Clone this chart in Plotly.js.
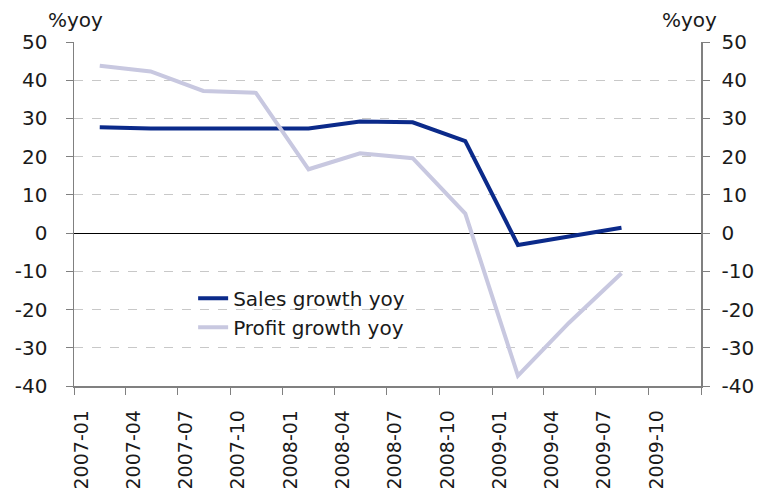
<!DOCTYPE html>
<html>
<head>
<meta charset="utf-8">
<script src="https://cdn.plot.ly/plotly-3.0.1.min.js"></script>
<style>
  body { margin: 0; background: #fff; }
  #plot { width: 766px; height: 490px; }
</style>
</head>
<body>
<div id="plot"></div>
<script>
// quarterly observations, plotted mid-quarter
var quarters = ["2007-02-15", "2007-05-15", "2007-08-15", "2007-11-15",
                "2008-02-15", "2008-05-15", "2008-08-15", "2008-11-15",
                "2009-02-15", "2009-05-15", "2009-08-15"];
var salesGrowth  = [27.7, 27.4, 27.4, 27.5, 27.4, 29.2, 29.0, 24.1, -3.1, -0.9, 1.4];
var profitGrowth = [43.8, 42.3, 37.2, 36.7, 16.7, 20.9, 19.6, 5.1, -37.3, -23.5, -10.5];

var tickDates = ["2007-01-01", "2007-04-01", "2007-07-01", "2007-10-01",
                 "2008-01-01", "2008-04-01", "2008-07-01", "2008-10-01",
                 "2009-01-01", "2009-04-01", "2009-07-01", "2009-10-01", "2010-01-01"];
var tickLabels = ["2007-01", "2007-04", "2007-07", "2007-10",
                  "2008-01", "2008-04", "2008-07", "2008-10",
                  "2009-01", "2009-04", "2009-07", "2009-10", ""];

var yTickVals = [-40, -30, -20, -10, 0, 10, 20, 30, 40, 50];
var yTickText = ["-40", "-30", "-20", "-10", "0", "10", "20", "30", "40", "50"];

var font = {family: "DejaVu Sans", size: 20, color: "#1a1a1a"};
var xFont = {family: "DejaVu Sans", size: 19, color: "#1a1a1a"};

var sales = {
  x: quarters,
  y: salesGrowth,
  name: "Sales growth yoy",
  type: "scatter",
  mode: "lines",
  line: {color: "#0b2a8a", width: 4}
};

var profit = {
  x: quarters,
  y: profitGrowth,
  name: "Profit growth yoy",
  type: "scatter",
  mode: "lines",
  line: {color: "#c8c8e0", width: 4}
};

// invisible copy so the right-hand axis is drawn
var rightAxis = {
  x: quarters,
  y: salesGrowth,
  yaxis: "y2",
  type: "scatter",
  mode: "lines",
  opacity: 0,
  showlegend: false,
  hoverinfo: "skip"
};

var yCommon = {
  range: [-40, 50],
  tickmode: "array",
  tickvals: yTickVals,
  ticktext: yTickText,
  ticks: "outside",
  ticklen: 7,
  tickcolor: "#808080",
  showline: true,
  linecolor: "#808080",
  linewidth: 1.5,
  tickfont: font,
  fixedrange: true
};

var layout = {
  width: 766,
  height: 490,
  margin: {l: 74, r: 65, t: 42, b: 104},
  paper_bgcolor: "#fff",
  plot_bgcolor: "#fff",
  font: font,
  showlegend: true,
  legend: {
    x: 0.19, y: 0.312, xanchor: "left", yanchor: "top",
    bgcolor: "rgba(0,0,0,0)",
    font: font,
    tracegroupgap: 0
  },
  xaxis: {
    type: "date",
    range: ["2007-01-01", "2010-01-01"],
    tickmode: "array",
    tickvals: tickDates,
    ticktext: tickLabels,
    tickangle: -90,
    ticks: "outside",
    ticklen: 7,
    tickcolor: "#808080",
    showline: true,
    linecolor: "#808080",
    linewidth: 1.5,
    showgrid: false,
    tickfont: xFont,
    ticklabelstandoff: 8,
    ticklabelshift: 8
  },
  yaxis: Object.assign({}, yCommon, {
    showgrid: true,
    gridcolor: "#c8c8c8",
    griddash: "dash",
    zeroline: true,
    zerolinecolor: "#000",
    zerolinewidth: 1,
    ticklabelstandoff: 14
  }),
  yaxis2: Object.assign({}, yCommon, {
    overlaying: "y",
    side: "right",
    showgrid: false,
    zeroline: false,
    ticklabelstandoff: 8
  }),
  shapes: [{
    type: "rect", xref: "paper", yref: "paper",
    x0: 0.086, x1: 0.611, y0: 0.142, y1: 0.294,
    fillcolor: "#fff", line: {width: 0}, layer: "between"
  }],
  annotations: [
    {text: "%yoy", xref: "paper", yref: "paper", x: 0.049, y: 1.064,
     xanchor: "right", yanchor: "middle", showarrow: false, font: font},
    {text: "%yoy", xref: "paper", yref: "paper", x: 0.981, y: 1.064,
     xanchor: "center", yanchor: "middle", showarrow: false, font: font}
  ]
};

Plotly.newPlot("plot", [sales, profit, rightAxis], layout, {displayModeBar: false, staticPlot: true});
</script>
</body>
</html>
